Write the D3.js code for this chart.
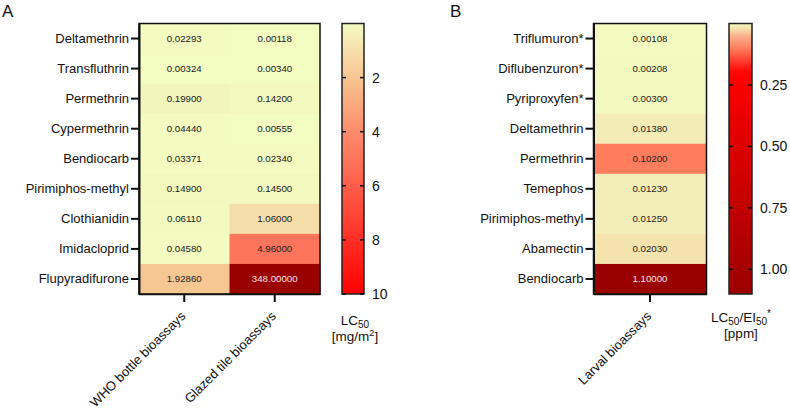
<!DOCTYPE html>
<html>
<head>
<meta charset="utf-8">
<script src="https://cdn.jsdelivr.net/npm/d3@7"></script>
<style>
  body { margin: 0; background: #fff; }
  svg { display: block; font-family: "Liberation Sans", Arial, sans-serif; }
  .row-label { font-size: 13px; fill: #111; }
  .cell-text { font-size: 9.7px; }
  .bar-tick { font-size: 14px; fill: #111; }
  .legend-title { font-size: 13.5px; fill: #111; }
  .panel-letter { font-size: 17px; fill: #111; }
</style>
</head>
<body>
<div id="chart"></div>
<script>
  // panel A: adult bioassays, LC50 in mg/m2
  const insecticidesA = ['Deltamethrin', 'Transfluthrin', 'Permethrin', 'Cypermethrin', 'Bendiocarb',
    'Pirimiphos-methyl', 'Clothianidin', 'Imidacloprid', 'Flupyradifurone'];
  const assaysA = ['WHO bottle bioassays', 'Glazed tile bioassays'];
  const whoBottle = [0.02293, 0.00324, 0.19900, 0.04440, 0.03371, 0.14900, 0.06110, 0.04580, 1.92860];
  const glazedTile = [0.00118, 0.00340, 0.14200, 0.00555, 0.02340, 0.14500, 1.06000, 4.96000, 348.00000];
  const ticksA = [2, 4, 6, 8, 10];

  // panel B: larval bioassays, LC50/EI50 in ppm
  const insecticidesB = ['Triflumuron*', 'Diflubenzuron*', 'Pyriproxyfen*', 'Deltamethrin', 'Permethrin',
    'Temephos', 'Pirimiphos-methyl', 'Abamectin', 'Bendiocarb'];
  const assaysB = ['Larval bioassays'];
  const larval = [0.00108, 0.00208, 0.00300, 0.01380, 0.10200, 0.01230, 0.01250, 0.02030, 1.10000];
  const ticksB = [0.25, 0.50, 0.75, 1.00];

  const W = 790, H = 409;
  const yTop = 23.5, yBottom = 294;
  const over = '#9b0000';

  const colorA = d3.scaleLinear()
    .domain([0, 1, 2, 4, 6, 10])
    .range(['#f3fcc1', '#f5dfaa', '#f7c591', '#fc8b6c', '#ff5e4a', '#ff0000'])
    .clamp(true);
  const colorB = d3.scaleLinear()
    .domain([0, 0.006, 0.013, 0.021, 0.05, 0.1, 0.2, 1.1])
    .range(['#f3fcc1', '#f3f6bc', '#f3edb8', '#f5e2ad', '#f8b08a', '#fd8060', '#ff0000', '#9b0000'])
    .clamp(true);

  const svg = d3.select('#chart').append('svg')
    .attr('width', W)
    .attr('height', H);
  const defs = svg.append('defs');

  function heatmap(opt) {
    const y = d3.scaleBand().domain(opt.rows).range([yTop, yBottom]);
    const x = d3.scaleBand().domain(opt.cols).range([opt.x0, opt.x1]);
    const cells = opt.rows.flatMap((r, i) => opt.cols.map((c, j) => ({ row: r, col: c, value: opt.values[j][i] })));
    const fill = d => d.value > opt.max ? over : opt.color(d.value);

    svg.append('g').selectAll('rect')
      .data(cells)
      .join('rect')
      .attr('x', d => x(d.col))
      .attr('y', d => y(d.row))
      .attr('width', x.bandwidth() + 0.5)
      .attr('height', y.bandwidth() + 0.5)
      .attr('fill', fill);

    svg.append('g').selectAll('text')
      .data(cells)
      .join('text')
      .attr('class', 'cell-text')
      .attr('x', d => x(d.col) + x.bandwidth() / 2)
      .attr('y', d => y(d.row) + y.bandwidth() / 2)
      .attr('dy', '0.35em')
      .attr('text-anchor', 'middle')
      .attr('fill', d => d.value > opt.darkFrom ? '#f6e2e2' : '#222')
      .text(d => d.value.toFixed(5));

    svg.append('rect')
      .attr('x', opt.x0).attr('y', yTop)
      .attr('width', opt.x1 - opt.x0).attr('height', yBottom - yTop)
      .attr('fill', 'none').attr('stroke', '#111').attr('stroke-width', 1.5);

    const yAxis = svg.append('g')
      .attr('transform', `translate(${opt.x0},0)`)
      .call(d3.axisLeft(y).tickSize(8).tickPadding(2).tickSizeOuter(0))
      .attr('font-family', null).attr('font-size', null);
    yAxis.select('.domain').attr('stroke-width', 2).attr('stroke', '#111');
    yAxis.selectAll('.tick line').attr('stroke-width', 2).attr('stroke', '#111');
    yAxis.selectAll('.tick text').attr('class', 'row-label');

    const xAxis = svg.append('g')
      .attr('transform', `translate(0,${yBottom})`)
      .call(d3.axisBottom(x).tickSize(8).tickSizeOuter(0))
      .attr('font-family', null).attr('font-size', null);
    xAxis.select('.domain').attr('stroke-width', 1.5).attr('stroke', '#111');
    xAxis.selectAll('.tick line').attr('stroke-width', 2).attr('stroke', '#111');
    xAxis.selectAll('.tick text')
      .attr('class', 'row-label')
      .attr('text-anchor', 'end')
      .attr('y', 0).attr('dy', 0)
      .attr('transform', 'translate(2,23) rotate(-45)');
  }

  function colorbar(opt) {
    const s = d3.scaleLinear().domain([0, opt.max]).range([yTop, yBottom]);
    const id = 'grad-' + opt.name;
    const grad = defs.append('linearGradient')
      .attr('id', id)
      .attr('x1', 0).attr('x2', 0).attr('y1', 0).attr('y2', 1);
    grad.selectAll('stop')
      .data(d3.range(0, 41).map(i => i / 40))
      .join('stop')
      .attr('offset', d => d)
      .attr('stop-color', d => opt.color(d * opt.max));

    svg.append('rect')
      .attr('x', opt.x0).attr('y', yTop)
      .attr('width', opt.x1 - opt.x0).attr('height', yBottom - yTop)
      .attr('fill', `url(#${id})`)
      .attr('stroke', '#222').attr('stroke-width', 1.5);

    const g = svg.append('g');
    g.selectAll('.tl')
      .data(opt.ticks)
      .join('line')
      .attr('class', 'tl')
      .attr('x1', opt.x0).attr('x2', opt.x0 + 4)
      .attr('y1', d => s(d)).attr('y2', d => s(d))
      .attr('stroke', '#111').attr('stroke-width', 1.5);
    g.selectAll('.tr')
      .data(opt.ticks)
      .join('line')
      .attr('class', 'tr')
      .attr('x1', opt.x1 - 4).attr('x2', opt.x1)
      .attr('y1', d => s(d)).attr('y2', d => s(d))
      .attr('stroke', '#111').attr('stroke-width', 1.5);
    g.selectAll('text')
      .data(opt.ticks)
      .join('text')
      .attr('class', 'bar-tick')
      .attr('x', opt.x1 + 8)
      .attr('y', d => s(d))
      .attr('dy', '0.36em')
      .text(opt.format);
  }

  heatmap({ rows: insecticidesA, cols: assaysA, values: [whoBottle, glazedTile],
    x0: 139, x1: 320, color: colorA, max: 10, darkFrom: 10 });
  colorbar({ name: 'a', x0: 342, x1: 364, max: 10, ticks: ticksA, color: colorA, format: d => d });

  heatmap({ rows: insecticidesB, cols: assaysB, values: [larval],
    x0: 593.5, x1: 706.5, color: colorB, max: 1.1, darkFrom: 0.8 });
  colorbar({ name: 'b', x0: 729, x1: 752, max: 1.1, ticks: ticksB, color: colorB, format: d3.format('.2f') });

  // legend titles
  const la = svg.append('text').attr('class', 'legend-title').attr('x', 355).attr('y', 325).attr('text-anchor', 'middle');
  la.append('tspan').text('LC');
  la.append('tspan').attr('font-size', '10px').attr('dy', 3).text('50');
  const la2 = svg.append('text').attr('class', 'legend-title').attr('x', 355).attr('y', 341).attr('text-anchor', 'middle');
  la2.append('tspan').text('[mg/m');
  la2.append('tspan').attr('font-size', '9px').attr('dy', -5).text('2');
  la2.append('tspan').attr('dy', 5).text(']');

  const lb = svg.append('text').attr('class', 'legend-title').attr('x', 741).attr('y', 322).attr('text-anchor', 'middle');
  lb.append('tspan').text('LC');
  lb.append('tspan').attr('font-size', '10px').attr('dy', 3).text('50');
  lb.append('tspan').attr('dy', -3).text('/EI');
  lb.append('tspan').attr('font-size', '10px').attr('dy', 3).text('50');
  lb.append('tspan').attr('font-size', '10px').attr('dy', -8).text('*');
  svg.append('text').attr('class', 'legend-title').attr('x', 741).attr('y', 338).attr('text-anchor', 'middle').text('[ppm]');

  svg.append('text').attr('class', 'panel-letter').attr('x', 2).attr('y', 17).text('A');
  svg.append('text').attr('class', 'panel-letter').attr('x', 450).attr('y', 17).text('B');
</script>
</body>
</html>
